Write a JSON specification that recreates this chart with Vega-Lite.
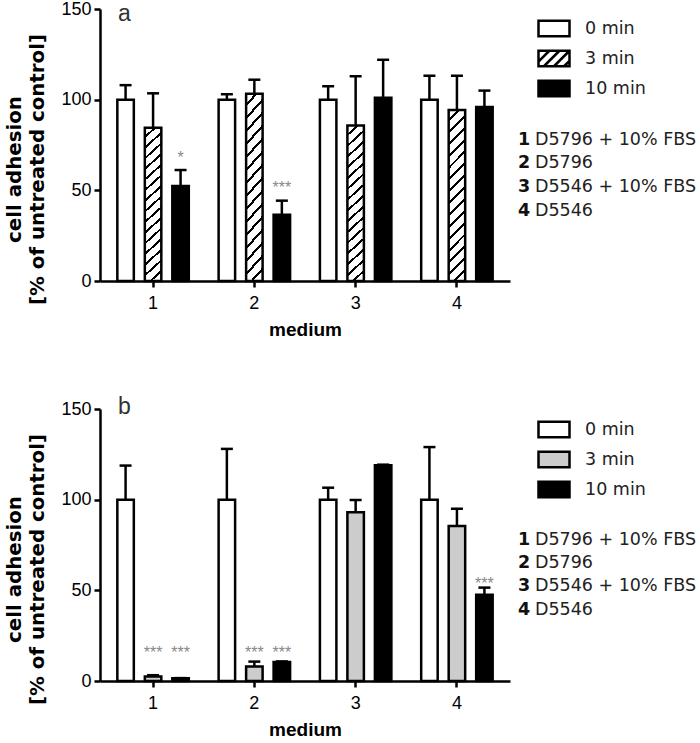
{
  "$schema": "https://vega.github.io/schema/vega-lite/v6.json",
  "padding": {"left": 4, "top": 0, "right": 0, "bottom": 0},
  "background": "white",
  "spacing": 57,
  "config": {
    "view": {"stroke": null},
    "font": "Liberation Sans",
    "axis": {"domainColor": "black", "domainWidth": 2.5, "tickColor": "black", "tickWidth": 2.5, "tickSize": 6, "labelColor": "black", "labelFont": "Liberation Sans", "titleColor": "black", "grid": false}
  },
  "resolve": {"scale": {"fill": "independent", "x": "independent", "y": "independent", "xOffset": "independent"}, "legend": {"fill": "independent"}},
  "vconcat": [
    {
      "width": 410,
      "height": 272,
      "data": {"values": [
        {"group": "1", "time": "0 min", "value": 100, "hi": 108},
        {"group": "1", "time": "3 min", "value": 84.5, "hi": 103.5},
        {"group": "1", "time": "10 min", "value": 52.4, "hi": 61.2, "sig": "*", "star": 70},
        {"group": "2", "time": "0 min", "value": 100, "hi": 103},
        {"group": "2", "time": "3 min", "value": 103.3, "hi": 111},
        {"group": "2", "time": "10 min", "value": 36.5, "hi": 44.3, "sig": "***", "star": 53.5},
        {"group": "3", "time": "0 min", "value": 100, "hi": 107.4},
        {"group": "3", "time": "3 min", "value": 85.7, "hi": 112.9},
        {"group": "3", "time": "10 min", "value": 101, "hi": 122},
        {"group": "4", "time": "0 min", "value": 100, "hi": 113.2},
        {"group": "4", "time": "3 min", "value": 94.3, "hi": 113.2},
        {"group": "4", "time": "10 min", "value": 96, "hi": 105}
      ]},
      "resolve": {"scale": {"y": "independent"}},
      "layer": [
        {
          "layer": [
            {
              "mark": {"type": "bar", "stroke": "black", "strokeWidth": 2.5, "strokeJoin": "miter"},
              "encoding": {
                "x": {"field": "group", "type": "nominal", "scale": {"domain": ["1", "2", "3", "4"], "paddingInner": 0, "paddingOuter": 0.024},
                  "axis": {"labelAngle": 0, "labelFontSize": 18, "labelPadding": 7, "bandPosition": 0.5, "title": "medium", "titleFontSize": 19, "titleFontWeight": "bold", "titleFont": "Liberation Sans", "titlePadding": 8}},
                "xOffset": {"field": "time", "type": "nominal", "scale": {"domain": ["0 min", "3 min", "10 min"], "paddingInner": 0.4, "paddingOuter": 0.542}},
                "y": {"field": "value", "type": "quantitative", "scale": {"domain": [0, 150], "nice": false},
                  "axis": {"values": [0, 50, 100, 150], "labelFontSize": 18, "labelPadding": 3, "title": ["cell adhesion", "[% of untreated control]"], "titleFont": "DejaVu Sans", "titleFontWeight": "bold", "titleFontSize": 19.8, "titleLineHeight": 23, "titlePadding": 13, "titleY": 160}},
                "fill": {
                  "condition": {"test": "datum.time === '3 min'", "value": {"gradient": "linear", "x1": 0, "y1": 0, "x2": 0.107, "y2": 1.1, "stops": [
                    {"offset": 0, "color": "white"}, {"offset": 0.047, "color": "white"}, {"offset": 0.047, "color": "black"}, {"offset": 0.0625, "color": "black"},
                    {"offset": 0.0625, "color": "white"}, {"offset": 0.1095, "color": "white"}, {"offset": 0.1095, "color": "black"}, {"offset": 0.125, "color": "black"},
                    {"offset": 0.125, "color": "white"}, {"offset": 0.172, "color": "white"}, {"offset": 0.172, "color": "black"}, {"offset": 0.1875, "color": "black"},
                    {"offset": 0.1875, "color": "white"}, {"offset": 0.2345, "color": "white"}, {"offset": 0.2345, "color": "black"}, {"offset": 0.25, "color": "black"},
                    {"offset": 0.25, "color": "white"}, {"offset": 0.297, "color": "white"}, {"offset": 0.297, "color": "black"}, {"offset": 0.3125, "color": "black"},
                    {"offset": 0.3125, "color": "white"}, {"offset": 0.3595, "color": "white"}, {"offset": 0.3595, "color": "black"}, {"offset": 0.375, "color": "black"},
                    {"offset": 0.375, "color": "white"}, {"offset": 0.422, "color": "white"}, {"offset": 0.422, "color": "black"}, {"offset": 0.4375, "color": "black"},
                    {"offset": 0.4375, "color": "white"}, {"offset": 0.4845, "color": "white"}, {"offset": 0.4845, "color": "black"}, {"offset": 0.5, "color": "black"},
                    {"offset": 0.5, "color": "white"}, {"offset": 0.547, "color": "white"}, {"offset": 0.547, "color": "black"}, {"offset": 0.5625, "color": "black"},
                    {"offset": 0.5625, "color": "white"}, {"offset": 0.6095, "color": "white"}, {"offset": 0.6095, "color": "black"}, {"offset": 0.625, "color": "black"},
                    {"offset": 0.625, "color": "white"}, {"offset": 0.672, "color": "white"}, {"offset": 0.672, "color": "black"}, {"offset": 0.6875, "color": "black"},
                    {"offset": 0.6875, "color": "white"}, {"offset": 0.7345, "color": "white"}, {"offset": 0.7345, "color": "black"}, {"offset": 0.75, "color": "black"},
                    {"offset": 0.75, "color": "white"}, {"offset": 0.797, "color": "white"}, {"offset": 0.797, "color": "black"}, {"offset": 0.8125, "color": "black"},
                    {"offset": 0.8125, "color": "white"}, {"offset": 0.8595, "color": "white"}, {"offset": 0.8595, "color": "black"}, {"offset": 0.875, "color": "black"},
                    {"offset": 0.875, "color": "white"}, {"offset": 0.922, "color": "white"}, {"offset": 0.922, "color": "black"}, {"offset": 0.9375, "color": "black"},
                    {"offset": 0.9375, "color": "white"}, {"offset": 0.9845, "color": "white"}, {"offset": 0.9845, "color": "black"}, {"offset": 1, "color": "black"}
                  ]}},
                  "field": "time", "type": "nominal",
                  "scale": {"domain": ["0 min", "3 min", "10 min"], "range": ["white", "white", "black"]},
                  "legend": {"orient": "none", "legendX": 437, "legendY": 2.5, "title": null, "padding": 0,
                    "symbolType": "M-1,-0.5H1V0.5H-1Z", "symbolSize": 961, "symbolStrokeColor": "black", "symbolStrokeWidth": 2.5,
                    "labelFont": "DejaVu Sans", "labelFontSize": 17.5, "labelColor": "#222", "labelOffset": 14, "rowPadding": -0.5,
                    "encoding": {"symbols": {
                      "stroke": {"value": "black"},
                      "strokeWidth": {"value": 2.5},
                      "shape": {
                        "condition": {"test": "datum.value === '3 min'", "value": "M-1,-0.5H1V0.5H-1Z M-1,0.2L-0.3,-0.5 M-0.65,0.5L0.35,-0.5 M0,0.5L1,-0.5 M0.65,0.5L1,0.15"},
                        "value": "M-1,-0.5H1V0.5H-1Z"
                      }
                    }}
                  }
                }
              }
            },
            {
              "mark": {"type": "rule", "strokeWidth": 2.5, "color": "black"},
              "encoding": {
                "x": {"field": "group", "type": "nominal"},
                "xOffset": {"field": "time", "type": "nominal"},
                "y": {"field": "value", "type": "quantitative"},
                "y2": {"field": "hi"}
              }
            },
            {
              "mark": {"type": "tick", "thickness": 2.5, "size": 12, "color": "black", "opacity": 1},
              "encoding": {
                "x": {"field": "group", "type": "nominal"},
                "xOffset": {"field": "time", "type": "nominal"},
                "y": {"field": "hi", "type": "quantitative"}
              }
            },
            {
              "transform": [{"filter": "datum.sig != null"}],
              "mark": {"type": "text", "fontSize": 16, "color": "#888888", "baseline": "alphabetic", "dy": 9},
              "encoding": {
                "x": {"field": "group", "type": "nominal"},
                "xOffset": {"field": "time", "type": "nominal"},
                "y": {"field": "star", "type": "quantitative"},
                "text": {"field": "sig"}
              }
            },
            {
              "data": {"values": [{"panel": "a"}]},
              "mark": {"type": "text", "fontSize": 23, "color": "#333333", "align": "left", "baseline": "alphabetic", "dx": -35},
              "encoding": {
                "x": {"datum": "1", "type": "nominal"},
                "y": {"datum": 143.5, "type": "quantitative"},
                "text": {"field": "panel"}
              }
            }
          ]
        },
        {
          "data": {"values": [
            {"num": "1", "label": "D5796 + 10% FBS"},
            {"num": "2", "label": "D5796"},
            {"num": "3", "label": "D5546 + 10% FBS"},
            {"num": "4", "label": "D5546"}
          ]},
          "encoding": {
            "x": {"datum": "4", "type": "nominal"},
            "y": {"field": "num", "type": "ordinal", "scale": {"type": "point", "domain": ["1", "2", "3", "4"], "range": [130.5, 201.5], "padding": 0}, "axis": null}
          },
          "layer": [
            {"mark": {"type": "text", "font": "DejaVu Sans", "fontWeight": "bold", "fontSize": 17.5, "color": "#111", "align": "left", "baseline": "middle", "dx": 61},
             "encoding": {"text": {"field": "num"}}},
            {"mark": {"type": "text", "font": "DejaVu Sans", "fontSize": 17.5, "color": "#222", "align": "left", "baseline": "middle", "dx": 78},
             "encoding": {"text": {"field": "label"}}}
          ]
        }
      ]
    },
    {
      "width": 410,
      "height": 272,
      "data": {"values": [
        {"group": "1", "time": "0 min", "value": 100, "hi": 118.8},
        {"group": "1", "time": "3 min", "value": 2.5, "hi": 3.2, "sig": "***", "star": 17.5},
        {"group": "1", "time": "10 min", "value": 1.5, "hi": 1.6, "sig": "***", "star": 17.5},
        {"group": "2", "time": "0 min", "value": 100, "hi": 128},
        {"group": "2", "time": "3 min", "value": 8, "hi": 10.7, "sig": "***", "star": 17.5},
        {"group": "2", "time": "10 min", "value": 10.5, "hi": 10.8, "sig": "***", "star": 17.5},
        {"group": "3", "time": "0 min", "value": 100, "hi": 106.6},
        {"group": "3", "time": "3 min", "value": 93, "hi": 99.8},
        {"group": "3", "time": "10 min", "value": 119, "hi": 119.3},
        {"group": "4", "time": "0 min", "value": 100, "hi": 129},
        {"group": "4", "time": "3 min", "value": 85.5, "hi": 95},
        {"group": "4", "time": "10 min", "value": 47.5, "hi": 51.5, "sig": "***", "star": 55.5}
      ]},
      "resolve": {"scale": {"y": "independent"}},
      "layer": [
        {
          "layer": [
            {
              "mark": {"type": "bar", "stroke": "black", "strokeWidth": 2.5, "strokeJoin": "miter"},
              "encoding": {
                "x": {"field": "group", "type": "nominal", "scale": {"domain": ["1", "2", "3", "4"], "paddingInner": 0, "paddingOuter": 0.024},
                  "axis": {"labelAngle": 0, "labelFontSize": 18, "labelPadding": 7, "bandPosition": 0.5, "title": "medium", "titleFontSize": 19, "titleFontWeight": "bold", "titleFont": "Liberation Sans", "titlePadding": 8}},
                "xOffset": {"field": "time", "type": "nominal", "scale": {"domain": ["0 min", "3 min", "10 min"], "paddingInner": 0.4, "paddingOuter": 0.542}},
                "y": {"field": "value", "type": "quantitative", "scale": {"domain": [0, 150], "nice": false},
                  "axis": {"values": [0, 50, 100, 150], "labelFontSize": 18, "labelPadding": 3, "title": ["cell adhesion", "[% of untreated control]"], "titleFont": "DejaVu Sans", "titleFontWeight": "bold", "titleFontSize": 19.8, "titleLineHeight": 23, "titlePadding": 13, "titleY": 160}},
                "fill": {
                  "field": "time", "type": "nominal",
                  "scale": {"domain": ["0 min", "3 min", "10 min"], "range": ["white", "#cccccc", "black"]},
                  "legend": {"orient": "none", "legendX": 437, "legendY": 3.5, "title": null, "padding": 0,
                    "symbolType": "M-1,-0.5H1V0.5H-1Z", "symbolSize": 961, "symbolStrokeColor": "black", "symbolStrokeWidth": 2.5,
                    "labelFont": "DejaVu Sans", "labelFontSize": 17.5, "labelColor": "#222", "labelOffset": 14, "rowPadding": -0.5}
                }
              }
            },
            {
              "mark": {"type": "rule", "strokeWidth": 2.5, "color": "black"},
              "encoding": {
                "x": {"field": "group", "type": "nominal"},
                "xOffset": {"field": "time", "type": "nominal"},
                "y": {"field": "value", "type": "quantitative"},
                "y2": {"field": "hi"}
              }
            },
            {
              "mark": {"type": "tick", "thickness": 2.5, "size": 12, "color": "black", "opacity": 1},
              "encoding": {
                "x": {"field": "group", "type": "nominal"},
                "xOffset": {"field": "time", "type": "nominal"},
                "y": {"field": "hi", "type": "quantitative"}
              }
            },
            {
              "transform": [{"filter": "datum.sig != null"}],
              "mark": {"type": "text", "fontSize": 16, "color": "#888888", "baseline": "alphabetic", "dy": 9},
              "encoding": {
                "x": {"field": "group", "type": "nominal"},
                "xOffset": {"field": "time", "type": "nominal"},
                "y": {"field": "star", "type": "quantitative"},
                "text": {"field": "sig"}
              }
            },
            {
              "data": {"values": [{"panel": "b"}]},
              "mark": {"type": "text", "fontSize": 23, "color": "#333333", "align": "left", "baseline": "alphabetic", "dx": -35},
              "encoding": {
                "x": {"datum": "1", "type": "nominal"},
                "y": {"datum": 147, "type": "quantitative"},
                "text": {"field": "panel"}
              }
            }
          ]
        },
        {
          "data": {"values": [
            {"num": "1", "label": "D5796 + 10% FBS"},
            {"num": "2", "label": "D5796"},
            {"num": "3", "label": "D5546 + 10% FBS"},
            {"num": "4", "label": "D5546"}
          ]},
          "encoding": {
            "x": {"datum": "4", "type": "nominal"},
            "y": {"field": "num", "type": "ordinal", "scale": {"type": "point", "domain": ["1", "2", "3", "4"], "range": [130.5, 200.5], "padding": 0}, "axis": null}
          },
          "layer": [
            {"mark": {"type": "text", "font": "DejaVu Sans", "fontWeight": "bold", "fontSize": 17.5, "color": "#111", "align": "left", "baseline": "middle", "dx": 61},
             "encoding": {"text": {"field": "num"}}},
            {"mark": {"type": "text", "font": "DejaVu Sans", "fontSize": 17.5, "color": "#222", "align": "left", "baseline": "middle", "dx": 78},
             "encoding": {"text": {"field": "label"}}}
          ]
        }
      ]
    }
  ]
}
